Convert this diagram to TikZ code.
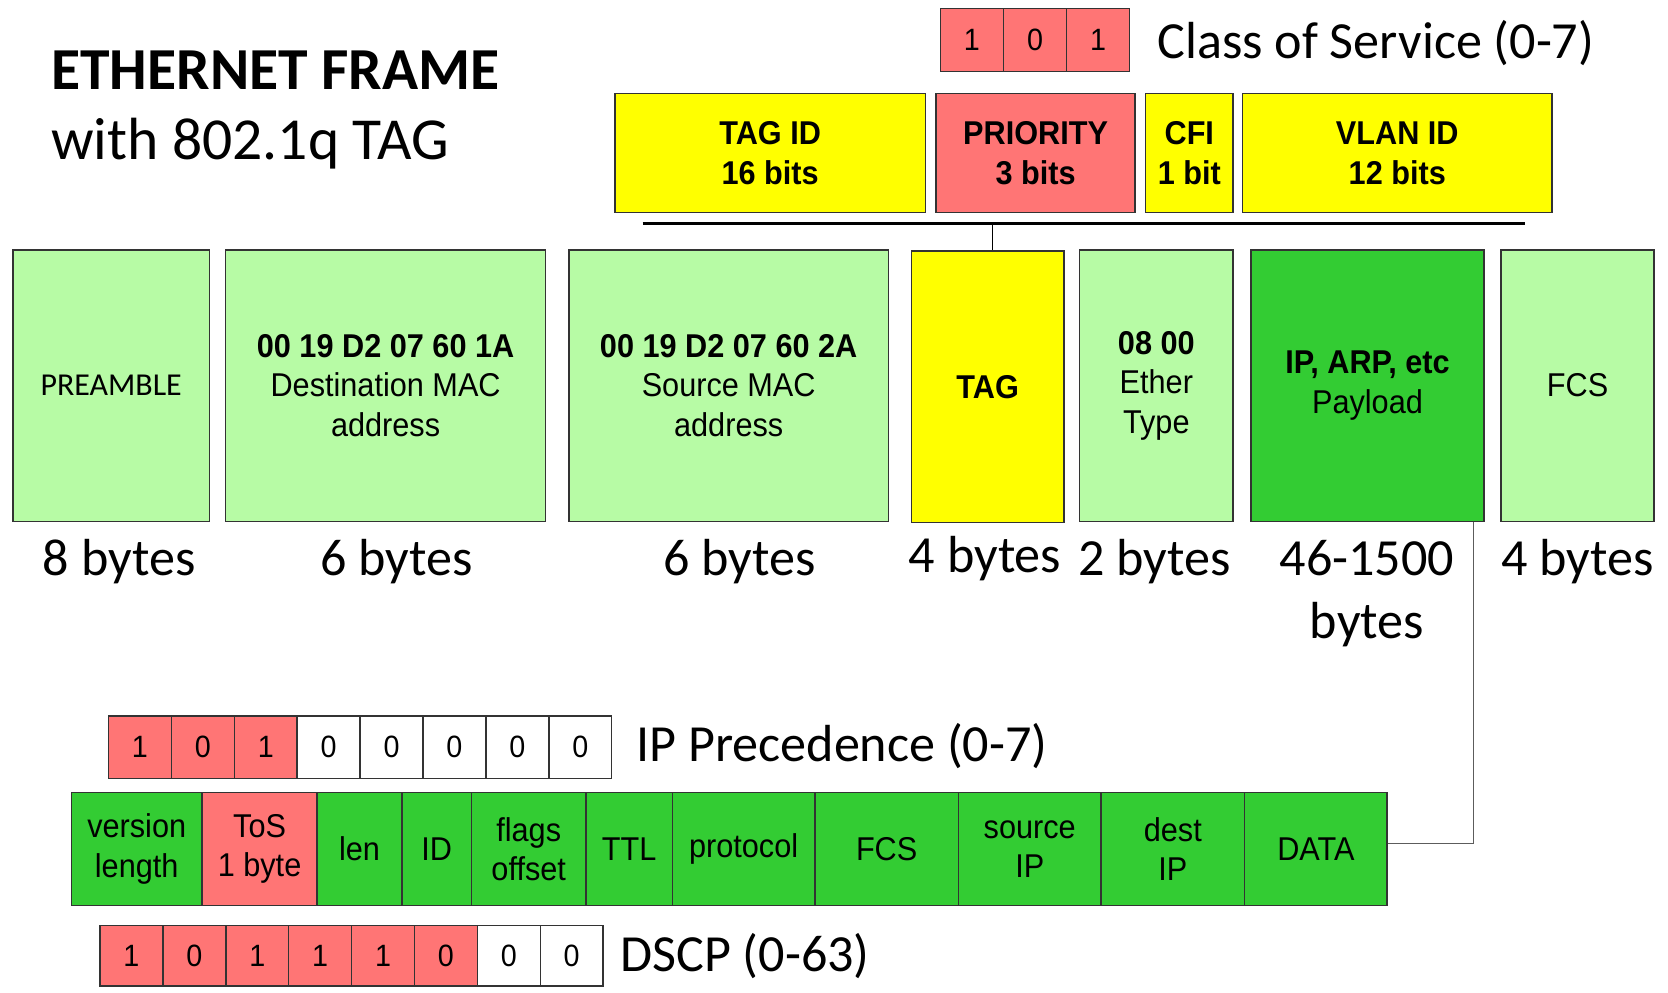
\documentclass[tikz,border=0pt]{standalone}
\usepackage{fontspec}
\setmainfont{Carlito}
\newfontfamily\calib{Carlito}
\newfontfamily\arialn[FakeStretch=0.93]{Liberation Sans}

\definecolor{lg}{RGB}{183,251,165}
\definecolor{dg}{RGB}{51,204,51}
\definecolor{rd}{RGB}{255,117,117}
\definecolor{yl}{RGB}{255,255,0}
\definecolor{edge}{RGB}{51,51,51}

\begin{document}
\begin{tikzpicture}[x=1pt,y=-1pt,
  fld/.style={draw=edge, line width=1.4pt, inner sep=0pt, align=center,
              font=\arialn\fontsize{31}{37}\selectfont},
  bit/.style={fld, minimum width=59.125pt, font=\arialn\fontsize{29}{33}\selectfont},
  lbl/.style={font=\calib\fontsize{49}{60}\selectfont, inner sep=0pt, align=center},
  ttl/.style={font=\calib\fontsize{56}{66}\selectfont, inner sep=0pt, anchor=base west},
  link/.style={draw=edge!80, line width=1.3pt},
]
\useasboundingbox (0,0) rectangle (1568,933);

% heading
\node[ttl] (t1) at (48,84) {\bfseries ETHERNET FRAME};
\node[ttl] (t2) at (48,150) {with 802.1q TAG};

% class of service bits
\foreach \b [count=\i] in {1,0,1}
  \node[bit, fill=rd, minimum width=59.33pt, minimum height=59pt] (cos\i)
    at ({884+59.33*(\i-0.5)},37.5) {\b};
\node[lbl, anchor=base west] (cosl) at (1088,55) {Class of Service (0-7)};

% 802.1q tag fields
\node[fld, fill=yl, minimum width=292pt, minimum height=112pt] (tagid) at (724,144)
  {\bfseries TAG ID\\\bfseries 16 bits};
\node[fld, fill=rd, minimum width=187pt, minimum height=112pt] (prio) at (973.5,144)
  {\bfseries PRIORITY\\\bfseries 3 bits};
\node[fld, fill=yl, minimum width=82pt, minimum height=112pt] (cfi) at (1118,144)
  {\bfseries CFI\\\bfseries 1 bit};
\node[fld, fill=yl, minimum width=291pt, minimum height=112pt] (vlan) at (1313.5,144)
  {\bfseries VLAN ID\\\bfseries 12 bits};

% ethernet frame fields
\node[fld, fill=lg, minimum width=185pt, minimum height=255pt] (pre) at (104.5,362.5)
  {\calib\fontsize{30}{36}\selectfont PREAMBLE};
\node[fld, fill=lg, minimum width=301pt, minimum height=255pt] (dst) at (362.5,362.5)
  {\bfseries 00 19 D2 07 60 1A\\Destination MAC\\address};
\node[fld, fill=lg, minimum width=300pt, minimum height=255pt] (src) at (685,362.5)
  {\bfseries 00 19 D2 07 60 2A\\Source MAC\\address};
\node[fld, fill=yl, minimum width=143pt, minimum height=255pt] (tag) at (928.5,363.5)
  {\bfseries TAG};
\node[fld, fill=lg, minimum width=144pt, minimum height=255pt] (eth) at (1087,362.5)
  {\bfseries 08 00\\Ether\\Type};
\node[fld, fill=dg, minimum width=219pt, minimum height=255pt] (pay) at (1285.5,362.5)
  {\bfseries IP, ARP, etc\\Payload};
\node[fld, fill=lg, minimum width=144pt, minimum height=255pt] (fcs) at (1483,362.5)
  {FCS};

% bracket joining the tag fields to the TAG field
\coordinate (barL) at (604,210);
\coordinate (barR) at (1434,210);
\coordinate (barM) at (933,210);
\draw[line width=3pt] (barL) -- (barR);
\draw[line width=1.5pt] (barM) -- (barM |- tag.north);

% sizes
\node[lbl, anchor=base] (s1) at (112,541) {8 bytes};
\node[lbl, anchor=base] (s2) at (373,541) {6 bytes};
\node[lbl, anchor=base] (s3) at (695,541) {6 bytes};
\node[lbl, anchor=base] (s4) at (926,538) {4 bytes};
\node[lbl, anchor=base] (s5) at (1085,541) {2 bytes};
\node[lbl] (s6) at (1285,558) {46-1500\\bytes};
\node[lbl, anchor=base] (s7) at (1483,541) {4 bytes};

% IP precedence bits
\foreach \b/\c [count=\i] in {1/rd,0/rd,1/rd,0/white,0/white,0/white,0/white,0/white}
  \node[bit, fill=\c, minimum height=59pt] (ipp\i) at ({102+59.125*(\i-0.5)},702.5) {\b};
\node[lbl, anchor=base west] (ippl) at (598,716) {IP Precedence (0-7)};

% IP header fields
\foreach \n/\cx/\w/\c/\t in {
    ver/128.5/123/dg/{version\\length},
    tos/244/108/rd/{ToS\\1 byte},
    len/338/80/dg/len,
    id/410.5/65/dg/ID,
    flg/497/108/dg/{flags\\offset},
    ttl/591.5/81/dg/TTL,
    pro/699/134/dg/protocol,
    ifcs/833.5/135/dg/FCS,
    sip/968/134/dg/{source\\IP},
    dip/1102.5/135/dg/{dest\\IP},
    data/1237/134/dg/DATA}
  \node[fld, fill=\c, minimum width=\w pt, minimum height=106pt] (\n) at (\cx,798) {\t};

% DSCP bits
\foreach \b/\c [count=\i] in {1/rd,0/rd,1/rd,1/rd,1/rd,0/rd,0/white,0/white}
  \node[bit, fill=\c, minimum height=57pt] (ds\i) at ({94+59.125*(\i-0.5)},898.5) {\b};
\node[lbl, anchor=base west] (dsl) at (583,913) {DSCP (0-63)};

% payload carries the IP packet
\coordinate (turn) at (1385,793);
\draw[link] (turn |- pay.south) -- (turn) -- (data.east |- turn);
\end{tikzpicture}
\end{document}
